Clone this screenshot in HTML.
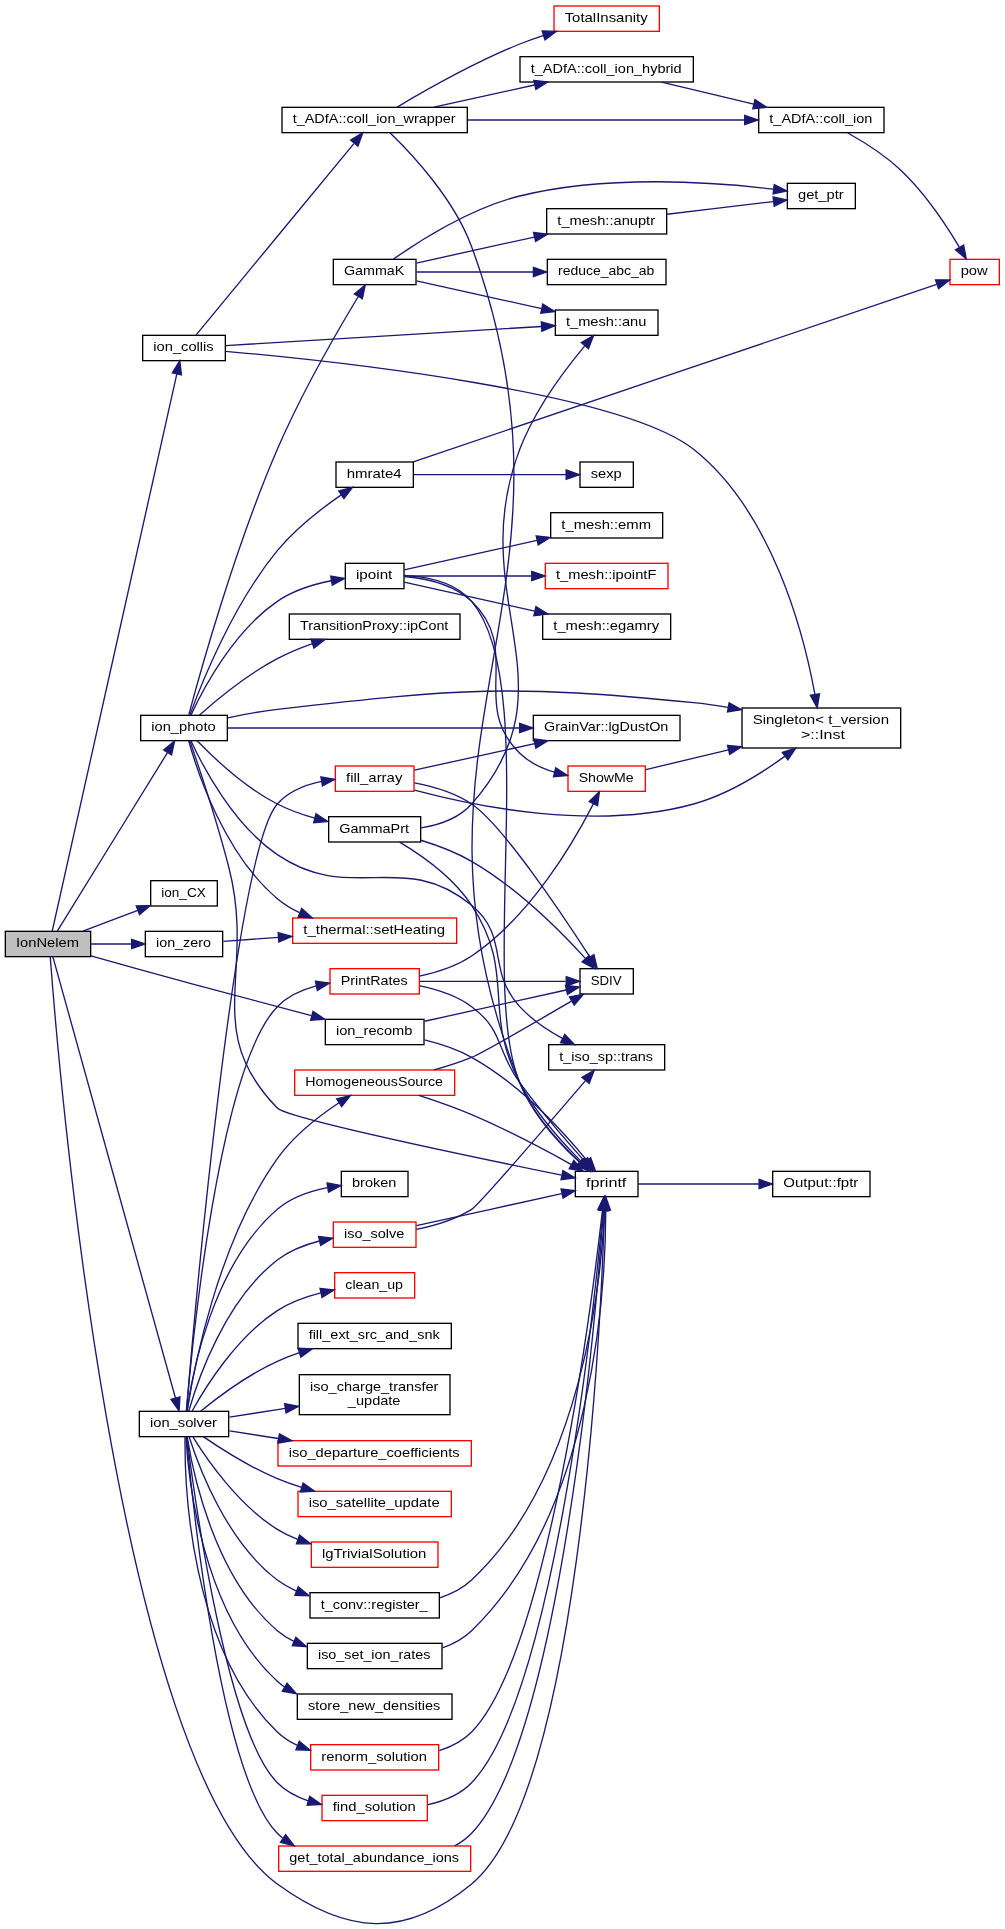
<!DOCTYPE html>
<html><head><meta charset="utf-8"><title>IonNelem</title>
<style>
html,body{margin:0;padding:0;background:#fff}
svg{display:block;will-change:transform}
text{font-family:"Liberation Sans",sans-serif;font-size:13.33px;fill:#000;text-anchor:middle}
</style></head>
<body>
<svg width="1005" height="1929" viewBox="0 0 1005 1929">
<rect x="0" y="0" width="1005" height="1929" fill="#fff"/>
<g fill="none" stroke="#191970" stroke-width="1.333">
<rect x="772.67" y="1171.33" width="97.33" height="25.33" fill="#fff" stroke="#000" stroke-width="1.333"/>
<rect x="787.33" y="183.33" width="68" height="25.33" fill="#fff" stroke="#000" stroke-width="1.333"/>
<rect x="310.67" y="1744.67" width="128" height="25.33" fill="#fff" stroke="#f00" stroke-width="1.333"/>
<rect x="575.33" y="1171.33" width="62.67" height="25.33" fill="#fff" stroke="#000" stroke-width="1.333"/>
<rect x="554" y="6" width="105.33" height="25.33" fill="#fff" stroke="#f00" stroke-width="1.333"/>
<rect x="289.33" y="614" width="170.67" height="25.33" fill="#fff" stroke="#000" stroke-width="1.333"/>
<rect x="548.67" y="1044.67" width="116" height="25.33" fill="#fff" stroke="#000" stroke-width="1.333"/>
<rect x="297.33" y="1694" width="154.67" height="25.33" fill="#fff" stroke="#000" stroke-width="1.333"/>
<rect x="282" y="107.33" width="185.33" height="25.33" fill="#fff" stroke="#000" stroke-width="1.333"/>
<rect x="758.67" y="107.33" width="125.33" height="25.33" fill="#fff" stroke="#000" stroke-width="1.333"/>
<rect x="520" y="56.67" width="173.33" height="25.33" fill="#fff" stroke="#000" stroke-width="1.333"/>
<rect x="310" y="1592.67" width="129.33" height="25.33" fill="#fff" stroke="#000" stroke-width="1.333"/>
<rect x="546.67" y="208.67" width="120" height="25.33" fill="#fff" stroke="#000" stroke-width="1.333"/>
<rect x="150.67" y="880.67" width="66.67" height="25.33" fill="#fff" stroke="#000" stroke-width="1.333"/>
<rect x="341.33" y="1171.33" width="66.67" height="25.33" fill="#fff" stroke="#000" stroke-width="1.333"/>
<rect x="335.33" y="766" width="78.67" height="25.33" fill="#fff" stroke="#f00" stroke-width="1.333"/>
<rect x="568" y="766" width="77.33" height="25.33" fill="#fff" stroke="#f00" stroke-width="1.333"/>
<rect x="742" y="708" width="158.67" height="40" fill="#fff" stroke="#000" stroke-width="1.333"/>
<rect x="580" y="968.67" width="53.33" height="25.33" fill="#fff" stroke="#000" stroke-width="1.333"/>
<rect x="533.33" y="715.33" width="146.67" height="25.33" fill="#fff" stroke="#000" stroke-width="1.333"/>
<rect x="145.33" y="931.33" width="77.33" height="25.33" fill="#fff" stroke="#000" stroke-width="1.333"/>
<rect x="292.67" y="918" width="164" height="25.33" fill="#fff" stroke="#f00" stroke-width="1.333"/>
<rect x="336" y="462" width="77.33" height="25.33" fill="#fff" stroke="#000" stroke-width="1.333"/>
<rect x="580" y="462" width="53.33" height="25.33" fill="#fff" stroke="#000" stroke-width="1.333"/>
<rect x="950" y="259.33" width="49.33" height="25.33" fill="#fff" stroke="#f00" stroke-width="1.333"/>
<rect x="299.33" y="1374.67" width="150.67" height="40" fill="#fff" stroke="#000" stroke-width="1.333"/>
<rect x="294.67" y="1070" width="160" height="25.33" fill="#fff" stroke="#f00" stroke-width="1.333"/>
<rect x="140.67" y="715.33" width="86.67" height="25.33" fill="#fff" stroke="#000" stroke-width="1.333"/>
<rect x="345.33" y="563.33" width="58.67" height="25.33" fill="#fff" stroke="#000" stroke-width="1.333"/>
<rect x="328.67" y="816.67" width="92" height="25.33" fill="#fff" stroke="#000" stroke-width="1.333"/>
<rect x="333.33" y="259.33" width="82.67" height="25.33" fill="#fff" stroke="#000" stroke-width="1.333"/>
<rect x="545.33" y="563.33" width="122.67" height="25.33" fill="#fff" stroke="#f00" stroke-width="1.333"/>
<rect x="542.67" y="614" width="128" height="25.33" fill="#fff" stroke="#000" stroke-width="1.333"/>
<rect x="550.67" y="512.67" width="112" height="25.33" fill="#fff" stroke="#000" stroke-width="1.333"/>
<rect x="278.67" y="1846" width="192" height="25.33" fill="#fff" stroke="#f00" stroke-width="1.333"/>
<rect x="307.33" y="1643.33" width="134.67" height="25.33" fill="#fff" stroke="#000" stroke-width="1.333"/>
<rect x="298" y="1323.33" width="153.33" height="25.33" fill="#fff" stroke="#000" stroke-width="1.333"/>
<rect x="334.67" y="1272.67" width="80" height="25.33" fill="#fff" stroke="#f00" stroke-width="1.333"/>
<rect x="142.67" y="335.33" width="82.67" height="25.33" fill="#fff" stroke="#000" stroke-width="1.333"/>
<rect x="555.33" y="310" width="102.67" height="25.33" fill="#fff" stroke="#000" stroke-width="1.333"/>
<rect x="330" y="968.67" width="89.33" height="25.33" fill="#fff" stroke="#f00" stroke-width="1.333"/>
<rect x="333.33" y="1222" width="82.67" height="25.33" fill="#fff" stroke="#f00" stroke-width="1.333"/>
<rect x="5.33" y="931.33" width="85.33" height="25.33" fill="#bfbfbf" stroke="#000" stroke-width="1.333"/>
<rect x="325.33" y="1019.33" width="98.67" height="25.33" fill="#fff" stroke="#000" stroke-width="1.333"/>
<rect x="139.33" y="1411.33" width="89.33" height="25.33" fill="#fff" stroke="#000" stroke-width="1.333"/>
<rect x="278" y="1440.67" width="193.33" height="25.33" fill="#fff" stroke="#f00" stroke-width="1.333"/>
<rect x="311.33" y="1542" width="126.67" height="25.33" fill="#fff" stroke="#f00" stroke-width="1.333"/>
<rect x="547.33" y="259.33" width="118.67" height="25.33" fill="#fff" stroke="#000" stroke-width="1.333"/>
<rect x="298" y="1491.33" width="153.33" height="25.33" fill="#fff" stroke="#f00" stroke-width="1.333"/>
<rect x="322" y="1795.33" width="105.33" height="25.33" fill="#fff" stroke="#f00" stroke-width="1.333"/>
<path d="M439.28,1750.69 C451.3,1746.83 462.84,1740.92 471.61,1732 546.77,1655.45 591.13,1309.45 602.44,1210.51"/>
<polygon fill="#191970" points="597.84,1209.56 603.97,1196.83 607.13,1210.59 597.84,1209.56"/>
<path d="M396.8,107.31 C424.2,90.99 474.26,62.53 519.75,44 527.2,40.96 535.14,38.12 543.07,35.51"/>
<polygon fill="#191970" points="542.16,30.89 556.32,31.35 544.97,39.8 542.16,30.89"/>
<path d="M389.94,132.79 C411.93,153.99 454.04,198.85 471.61,246.67 600.03,596.11 381.78,736.85 519.75,1082.67 532.33,1114.21 558.88,1143.08 579.08,1161.87"/>
<polygon fill="#191970" points="582.7,1158.83 589.52,1171.21 576.45,1165.77 582.7,1158.83"/>
<path d="M467.99,120 C549.76,120 667.88,120 744.31,120"/>
<polygon fill="#191970" points="744.7,115.33 758.07,120 744.7,124.67 744.7,115.33"/>
<path d="M433.88,107.21 C464.4,100.47 502.13,92.13 534.41,85"/>
<polygon fill="#191970" points="533.8,80.35 547.87,82.03 535.84,89.47 533.8,80.35"/>
<path d="M439.69,1597.79 C451.39,1593.96 462.72,1588.31 471.61,1580 581.66,1477.17 601.16,1281.23 604.61,1210.39"/>
<polygon fill="#191970" points="599.93,1210.04 605.13,1196.89 609.29,1210.4 599.93,1210.04"/>
<path d="M667.05,214.27 C700.63,210.25 742.07,205.31 773.34,201.57"/>
<polygon fill="#191970" points="773.1,196.89 786.93,199.95 774.21,206.16 773.1,196.89"/>
<path d="M414.46,790.13 C475.02,806.35 595.8,831.12 693.6,804 727.12,794.69 760.64,773.88 784.73,756.39"/>
<polygon fill="#191970" points="782.25,752.4 795.76,748.12 787.88,759.87 782.25,752.4"/>
<path d="M414.27,782.88 C432.81,786.33 454.66,792.6 471.61,804 502.23,824.56 561.67,913.27 589.82,956.91"/>
<polygon fill="#191970" points="593.94,954.65 597.19,968.4 586.05,959.68 593.94,954.65"/>
<path d="M414.39,770.17 C447.15,762.95 495.12,752.35 534.78,743.59"/>
<polygon fill="#191970" points="533.82,739.01 547.88,740.68 535.84,748.13 533.82,739.01"/>
<path d="M645.91,769.6 C668.94,764.09 699.41,756.81 728.4,749.88"/>
<polygon fill="#191970" points="727.5,745.31 741.59,746.73 729.68,754.37 727.5,745.31"/>
<path d="M223.38,941.29 C239.43,940.16 258.88,938.77 278.39,937.4"/>
<polygon fill="#191970" points="278.14,932.73 291.86,936.44 278.81,942.04 278.14,932.73"/>
<path d="M413.87,474.67 C455.93,474.67 523.51,474.67 566.11,474.67"/>
<polygon fill="#191970" points="566.15,470 579.52,474.67 566.15,479.33 566.15,470"/>
<path d="M413.31,461.99 C520.69,425.49 829.71,320.51 936.64,284.39"/>
<polygon fill="#191970" points="935.53,279.83 949.78,279.95 938.57,288.67 935.53,279.83"/>
<path d="M433.93,1069.88 C446.55,1066.39 459.7,1062.2 471.61,1057.33 481.89,1053.12 535.3,1022.28 571.42,1001.2"/>
<polygon fill="#191970" points="569.48,996.93 583.39,994.21 574.21,1004.99 569.48,996.93"/>
<path d="M418.89,1095.44 C435.56,1100.83 454.7,1107.49 471.61,1114.67 506.54,1129.45 544.81,1149.73 571.42,1164.55"/>
<polygon fill="#191970" points="573.79,1160.51 583.13,1171.12 569.19,1168.64 573.79,1160.51"/>
<path d="M199.31,715.13 C216.52,699.87 247.19,674.48 277.32,658.67 288.28,652.91 300.48,647.89 312.4,643.65"/>
<polygon fill="#191970" points="310.95,639.21 325.17,639.35 313.98,648.05 310.95,639.21"/>
<path d="M191.04,741.05 C203.03,766.92 233.41,824.76 277.32,854.67 351.09,904.91 403.04,848.63 471.61,905.33 510.08,937.13 486.09,969.81 519.75,1006.67 531.57,1019.6 547.47,1030.24 562.37,1038.39"/>
<polygon fill="#191970" points="564.79,1034.37 574.53,1044.63 560.51,1042.67 564.79,1034.37"/>
<path d="M189.93,714.87 C201.21,683.89 232.66,604.76 277.32,550.67 295.51,528.63 321.11,508.76 341.3,494.87"/>
<polygon fill="#191970" points="338.7,490.97 352.46,487.4 343.95,498.72 338.7,490.97"/>
<path d="M191.05,714.95 C203.05,689.11 233.47,631.31 277.32,601.33 293.12,590.52 313.32,584.32 331.11,580.77"/>
<polygon fill="#191970" points="330.71,576.11 344.74,578.45 332.29,585.31 330.71,576.11"/>
<path d="M227.68,717.81 C243.2,714.49 260.96,711.2 277.32,709.33 461.36,688.25 509.64,684.4 693.6,702.67 704.81,703.77 716.49,705.43 728.03,707.36"/>
<polygon fill="#191970" points="729.13,702.81 741.47,709.76 727.48,712.01 729.13,702.81"/>
<path d="M197.16,740.73 C213.54,757.65 244.84,787.33 277.32,804 288.92,809.95 302.05,814.59 314.79,818.19"/>
<polygon fill="#191970" points="316.06,813.68 327.86,821.56 313.68,822.72 316.06,813.68"/>
<path d="M228.03,728 C296.17,728 430.69,728 519.22,728"/>
<polygon fill="#191970" points="519.64,723.33 533.02,728 519.64,732.67 519.64,723.33"/>
<path d="M189.89,740.99 C198.38,765.57 216.87,820.65 228.98,868 255.96,973.43 201.08,1029.88 277.32,1108 287.32,1118.24 474.58,1157.37 561.52,1175.13"/>
<polygon fill="#191970" points="562.91,1170.65 575.07,1177.89 561.03,1179.8 562.91,1170.65"/>
<path d="M188.77,714.92 C199.52,674.53 234.49,548.53 277.32,449.33 301.69,392.89 337.82,330.4 358.1,296.75"/>
<polygon fill="#191970" points="354.31,293.95 365.27,284.95 362.35,298.77 354.31,293.95"/>
<path d="M188.66,740.79 C197.49,772.31 224.59,854.41 277.32,898.67 283.93,904.21 291.54,908.8 299.54,912.61"/>
<polygon fill="#191970" points="301.77,908.48 312.31,917.96 298.12,917.08 301.77,908.48"/>
<path d="M404.18,576.48 C425.32,578.33 453.6,584.17 471.61,601.33 523,650.25 469.08,703.67 519.75,753.33 529.19,762.57 541.84,768.47 554.52,772.23"/>
<polygon fill="#191970" points="555.73,767.71 567.61,775.41 553.51,776.79 555.73,767.71"/>
<path d="M404.12,576 C435.64,576 488.01,576 531.41,576"/>
<polygon fill="#191970" points="531.78,571.33 545.16,576 531.78,580.67 531.78,571.33"/>
<path d="M404.12,582.2 C436.42,589.35 490.63,601.32 534.65,611.04"/>
<polygon fill="#191970" points="535.9,606.55 547.94,613.99 533.87,615.65 535.9,606.55"/>
<path d="M404.34,575.44 C426.15,576.65 455.24,582.16 471.61,601.33 541.49,683.17 477.8,983.64 519.75,1082.67 533,1113.95 559.44,1142.85 579.44,1161.72"/>
<polygon fill="#191970" points="583.04,1158.68 589.76,1171.12 576.74,1165.57 583.04,1158.68"/>
<path d="M404.12,569.79 C436.97,562.52 492.46,550.27 536.85,540.45"/>
<polygon fill="#191970" points="536.17,535.83 550.24,537.49 538.19,544.93 536.17,535.83"/>
<path d="M454.8,1845.87 C461.03,1842.55 466.77,1838.43 471.61,1833.33 559.6,1740.43 595.55,1320.13 603.54,1210.32"/>
<polygon fill="#191970" points="598.87,1209.92 604.49,1196.95 608.22,1210.57 598.87,1209.92"/>
<path d="M442.38,1647.85 C453.19,1644.03 463.48,1638.53 471.61,1630.67 593.96,1512.31 605.56,1287.51 605.78,1210.59"/>
<polygon fill="#191970" points="601.09,1210.24 605.69,1196.87 610.45,1210.17 601.09,1210.24"/>
<path d="M195.99,335.08 C226.48,298.09 314.53,191.31 353.89,143.55"/>
<polygon fill="#191970" points="350.66,140.12 362.8,132.76 357.92,146.04 350.66,140.12"/>
<path d="M225.79,351.33 C333.07,360.91 620.72,391.53 693.6,449.33 772.74,512.07 804.01,635.01 814.89,694.36"/>
<polygon fill="#191970" points="819.53,693.73 817.19,707.67 810.31,695.32 819.53,693.73"/>
<path d="M225.7,345.56 C298.95,341.16 453.97,331.81 541.51,326.52"/>
<polygon fill="#191970" points="541.32,321.85 554.94,325.71 541.88,331.17 541.32,321.85"/>
<path d="M419.5,976.08 C436.81,972.45 456.23,966.33 471.61,956 530.35,916.52 573.56,842.61 593.34,803.85"/>
<polygon fill="#191970" points="589.23,801.6 599.34,791.72 597.61,805.73 589.23,801.6"/>
<path d="M419.68,981.33 C461.81,981.33 525.02,981.33 565.72,981.33"/>
<polygon fill="#191970" points="566.24,976.67 579.62,981.33 566.24,986 566.24,976.67"/>
<path d="M419.93,985.96 C437.31,989.49 456.66,995.71 471.61,1006.67 503.9,1030.31 496.1,1050.41 519.75,1082.67 540.21,1110.53 566.11,1140.59 584.04,1160.65"/>
<polygon fill="#191970" points="587.64,1157.67 593.09,1170.71 580.67,1163.91 587.64,1157.67"/>
<path d="M420.95,840.24 C437.51,845.31 456.03,852.27 471.61,861.33 517.37,887.96 561.19,931.99 585.57,958.65"/>
<polygon fill="#191970" points="589.06,955.56 594.48,968.6 582.08,961.77 589.06,955.56"/>
<path d="M399.63,842.17 C421.51,855.25 453.32,877.55 471.61,905.33 516.55,973.57 481.79,1010.32 519.75,1082.67 535.64,1112.92 561.88,1142.17 581.13,1161.4"/>
<polygon fill="#191970" points="584.7,1158.35 590.99,1171 578.16,1165.03 584.7,1158.35"/>
<path d="M421.13,827.87 C439.35,824.91 459,818.25 471.61,804 577.13,684.69 463,597.99 519.75,449.33 534.87,409.72 564.48,370.19 584.58,346.08"/>
<polygon fill="#191970" points="581.34,342.67 593.58,335.56 588.47,348.73 581.34,342.67"/>
<path d="M416.27,1229.43 C434.2,1225.77 454.98,1219.61 471.61,1209.33 478.75,1204.91 549.7,1122.44 585.25,1080.87"/>
<polygon fill="#191970" points="582.02,1077.45 594.26,1070.33 589.15,1083.51 582.02,1077.45"/>
<path d="M416.48,1225.72 C457.25,1216.71 519.98,1202.85 561.8,1193.61"/>
<polygon fill="#191970" points="561.07,1188.99 575.14,1190.67 563.09,1198.11 561.07,1188.99"/>
<path d="M82.98,931.21 C99.61,924.88 119.93,917.17 137.85,910.36"/>
<polygon fill="#191970" points="136.22,905.99 150.41,905.59 139.57,914.71 136.22,905.99"/>
<path d="M91.16,944 C103.97,944 118.2,944 131.56,944"/>
<polygon fill="#191970" points="131.66,939.33 145.06,944 131.66,948.67 131.66,939.33"/>
<path d="M57.29,931.13 C78.9,896.09 139.11,798.55 167.49,752.57"/>
<polygon fill="#191970" points="163.58,749.99 174.59,741.07 171.58,754.87 163.58,749.99"/>
<path d="M52.25,930.99 C69.05,855.87 153.77,477.15 176.84,373.97"/>
<polygon fill="#191970" points="172.3,372.83 179.79,360.83 181.45,374.85 172.3,372.83"/>
<path d="M50.25,956.81 C57.96,1060.89 115.88,1766.41 277.32,1884 347.11,1934.79 405.22,1938.77 471.61,1884 578.41,1795.87 600.65,1328.2 604.58,1210.76"/>
<polygon fill="#191970" points="599.9,1210.32 605,1197.13 609.26,1210.6 599.9,1210.32"/>
<path d="M90.88,955.81 C106.04,960.11 123.34,964.97 139.11,969.33 197.39,985.43 264.12,1003.21 311.4,1015.71"/>
<polygon fill="#191970" points="313.04,1011.31 324.8,1019.25 310.62,1020.33 313.04,1011.31"/>
<path d="M52.9,956.83 C70.79,1021.23 150.85,1309.48 175.45,1398.03"/>
<polygon fill="#191970" points="179.97,1396.8 179.02,1410.89 170.94,1399.28 179.97,1396.8"/>
<path d="M638.38,1184 C669.72,1184 719.46,1184 758.97,1184"/>
<polygon fill="#191970" points="759.09,1179.33 772.46,1184 759.09,1188.67 759.09,1179.33"/>
<path d="M847.45,132.71 C863.89,141.88 885.29,155.31 901.36,170.67 925.18,193.4 946.14,224.97 959.2,246.8"/>
<polygon fill="#191970" points="963.64,245.09 966.27,258.97 955.47,249.75 963.64,245.09"/>
<path d="M393.44,259.11 C419.38,240.83 470.41,208.23 519.75,196 607.31,174.28 713.76,181.93 773.49,189.16"/>
<polygon fill="#191970" points="774.25,184.56 786.93,190.88 773.08,193.81 774.25,184.56"/>
<path d="M416.48,263.05 C449.03,255.87 495.56,245.57 534.29,237.03"/>
<polygon fill="#191970" points="533.55,232.4 547.63,234.08 535.58,241.52 533.55,232.4"/>
<path d="M416.48,272 C448.65,272 494.5,272 532.96,272"/>
<polygon fill="#191970" points="533.39,267.33 546.76,272 533.39,276.67 533.39,267.33"/>
<path d="M416.48,280.93 C451.13,288.59 501.63,299.75 541.69,308.6"/>
<polygon fill="#191970" points="542.8,304.07 554.85,311.51 540.78,313.17 542.8,304.07"/>
<path d="M424.64,1021.25 C466.8,1011.93 527.01,998.63 566.14,989.99"/>
<polygon fill="#191970" points="565.45,985.36 579.52,987.03 567.49,994.47 565.45,985.36"/>
<path d="M424.49,1039.91 C440.17,1043.73 457.22,1049.31 471.61,1057.33 519.51,1084.03 563.21,1131.75 586.86,1160.37"/>
<polygon fill="#191970" points="590.71,1157.71 595.46,1171.03 583.43,1163.56 590.71,1157.71"/>
<path d="M185.02,1436.73 C184.55,1483.49 189.52,1647.25 277.32,1732 283.11,1737.57 289.98,1741.96 297.35,1745.41"/>
<polygon fill="#191970" points="299.33,1741.16 310.12,1750.36 295.92,1749.85 299.33,1741.16"/>
<path d="M185.89,1436.95 C188.4,1478.95 202.21,1612.56 277.32,1681.33 279.59,1683.4 282.01,1685.31 284.54,1687.07"/>
<polygon fill="#191970" points="287.05,1683.12 296.33,1693.83 282.35,1691.2 287.05,1683.12"/>
<path d="M189.12,1436.76 C198.62,1466.67 226.51,1541.6 277.32,1580 283.15,1584.4 289.7,1588.04 296.55,1591.05"/>
<polygon fill="#191970" points="298.27,1586.71 309.14,1595.81 294.92,1595.43 298.27,1586.71"/>
<path d="M186.91,1411.09 C192.16,1373.8 212.6,1265.04 277.32,1209.33 291.2,1197.37 310.15,1190.99 327.55,1187.6"/>
<polygon fill="#191970" points="327.05,1182.95 341.04,1185.48 328.52,1192.17 327.05,1182.95"/>
<path d="M186.4,1411.03 C193.49,1326.09 234.82,851.28 277.32,804 288.53,791.52 305.17,784.87 321.44,781.43"/>
<polygon fill="#191970" points="320.9,776.79 334.91,779.23 322.42,786 320.9,776.79"/>
<path d="M229.41,1417.12 C246.17,1414.51 265.91,1411.43 285.3,1408.4"/>
<polygon fill="#191970" points="284.64,1403.77 298.63,1406.32 286.09,1413 284.64,1403.77"/>
<path d="M187.16,1411.23 C193.4,1370.83 217.06,1243.44 277.32,1158.67 293.55,1135.83 318.59,1116.32 339.03,1102.79"/>
<polygon fill="#191970" points="336.59,1098.8 350.43,1095.53 341.66,1106.65 336.59,1098.8"/>
<path d="M186.43,1436.68 C192.06,1499.19 219.8,1773.85 277.32,1833.33 279,1835.07 280.8,1836.69 282.68,1838.21"/>
<polygon fill="#191970" points="285.64,1834.56 294.28,1845.79 280.47,1842.36 285.64,1834.56"/>
<path d="M187.16,1436.95 C192.97,1473.36 214.56,1577.4 277.32,1630.67 282.3,1634.89 287.91,1638.41 293.88,1641.37"/>
<polygon fill="#191970" points="295.93,1637.16 306.48,1646.64 292.28,1645.76 295.93,1637.16"/>
<path d="M200.62,1411.15 C218.11,1397.04 248.1,1374.65 277.32,1361.33 284.34,1358.12 291.86,1355.27 299.47,1352.72"/>
<polygon fill="#191970" points="298.08,1348.27 312.3,1348.76 300.88,1357.17 298.08,1348.27"/>
<path d="M192.03,1411.24 C205.09,1387.63 236.34,1337.09 277.32,1310.67 290.28,1302.31 305.92,1296.69 320.78,1292.93"/>
<polygon fill="#191970" points="319.99,1288.32 334.12,1289.97 322.03,1297.44 319.99,1288.32"/>
<path d="M186.39,1411.07 C191.84,1347.35 218.84,1067.36 277.32,1006.67 287.63,995.96 301.94,989.59 316.37,985.85"/>
<polygon fill="#191970" points="315.43,981.28 329.54,983.12 317.36,990.43 315.43,981.28"/>
<path d="M188.78,1411.04 C197.71,1379.93 224.74,1300.61 277.32,1260 289.4,1250.65 304.66,1244.75 319.44,1241.01"/>
<polygon fill="#191970" points="318.63,1236.41 332.76,1238.16 320.62,1245.53 318.63,1236.41"/>
<path d="M229.41,1430.87 C244.14,1433.17 261.18,1435.83 278.26,1438.49"/>
<polygon fill="#191970" points="279.39,1433.95 291.91,1440.63 277.92,1443.16 279.39,1433.95"/>
<path d="M192.92,1436.88 C206.73,1459.24 238.25,1505.11 277.32,1529.33 283.63,1533.24 290.53,1536.55 297.66,1539.36"/>
<polygon fill="#191970" points="299.53,1535.05 310.65,1543.87 296.41,1543.87 299.53,1535.05"/>
<path d="M203.21,1436.67 C221.18,1448.91 250.06,1467.23 277.32,1478.67 285.04,1481.89 293.28,1484.81 301.57,1487.43"/>
<polygon fill="#191970" points="303.05,1482.99 314.58,1491.27 300.36,1491.93 303.05,1482.99"/>
<path d="M186.9,1437.01 C194.15,1495.27 226.34,1731.51 277.32,1782.67 285.78,1791.15 296.76,1796.89 308.26,1800.76"/>
<polygon fill="#191970" points="309.67,1796.31 321.35,1804.37 307.15,1805.29 309.67,1796.31"/>
<path d="M427.98,1804.57 C443.89,1801.04 460.19,1794.52 471.61,1782.67 553.21,1697.92 593.48,1314.52 603.06,1210.24"/>
<polygon fill="#191970" points="598.39,1209.81 604.25,1196.95 607.71,1210.64 598.39,1209.81"/>
<path d="M661.5,82.11 C689.47,88.8 723.98,97.04 753.64,104.13"/>
<polygon fill="#191970" points="754.97,99.65 766.88,107.31 752.79,108.73 754.97,99.65"/>
</g>
<g lengthAdjust="spacingAndGlyphs" opacity="0.999">
<text lengthAdjust="spacingAndGlyphs" x="820.83" y="1187" textLength="75.03">Output::fptr</text>
<text lengthAdjust="spacingAndGlyphs" x="820.83" y="199" textLength="45.7">get_ptr</text>
<text lengthAdjust="spacingAndGlyphs" x="374.17" y="1761" textLength="105.7">renorm_solution</text>
<text lengthAdjust="spacingAndGlyphs" x="606.17" y="1187" textLength="40.37">fprintf</text>
<text lengthAdjust="spacingAndGlyphs" x="606.17" y="22" textLength="83.03">TotalInsanity</text>
<text lengthAdjust="spacingAndGlyphs" x="374.17" y="630" textLength="148.37">TransitionProxy::ipCont</text>
<text lengthAdjust="spacingAndGlyphs" x="606.17" y="1061" textLength="93.7">t_iso_sp::trans</text>
<text lengthAdjust="spacingAndGlyphs" x="374.17" y="1710" textLength="132.37">store_new_densities</text>
<text lengthAdjust="spacingAndGlyphs" x="374.17" y="123" textLength="163.03">t_ADfA::coll_ion_wrapper</text>
<text lengthAdjust="spacingAndGlyphs" x="820.83" y="123" textLength="103.03">t_ADfA::coll_ion</text>
<text lengthAdjust="spacingAndGlyphs" x="606.17" y="73" textLength="151.03">t_ADfA::coll_ion_hybrid</text>
<text lengthAdjust="spacingAndGlyphs" x="374.17" y="1609" textLength="107.03">t_conv::register_</text>
<text lengthAdjust="spacingAndGlyphs" x="606.17" y="225" textLength="97.7">t_mesh::anuptr</text>
<text lengthAdjust="spacingAndGlyphs" x="183.5" y="897" textLength="44.37">ion_CX</text>
<text lengthAdjust="spacingAndGlyphs" x="374.17" y="1187" textLength="44.37">broken</text>
<text lengthAdjust="spacingAndGlyphs" x="374.17" y="782" textLength="56.37">fill_array</text>
<text lengthAdjust="spacingAndGlyphs" x="606.17" y="782" textLength="55.03">ShowMe</text>
<text lengthAdjust="spacingAndGlyphs" x="820.83" y="724" textLength="136.37">Singleton&lt; t_version</text>
<text lengthAdjust="spacingAndGlyphs" x="822.93" y="739" textLength="43.88">&gt;::Inst</text>
<text lengthAdjust="spacingAndGlyphs" x="606.17" y="985" textLength="31.03">SDIV</text>
<text lengthAdjust="spacingAndGlyphs" x="606.17" y="731" textLength="124.37">GrainVar::lgDustOn</text>
<text lengthAdjust="spacingAndGlyphs" x="183.5" y="947" textLength="55.03">ion_zero</text>
<text lengthAdjust="spacingAndGlyphs" x="374.17" y="934" textLength="141.7">t_thermal::setHeating</text>
<text lengthAdjust="spacingAndGlyphs" x="374.17" y="478" textLength="55.03">hmrate4</text>
<text lengthAdjust="spacingAndGlyphs" x="606.17" y="478" textLength="31.03">sexp</text>
<text lengthAdjust="spacingAndGlyphs" x="974.17" y="275" textLength="27.03">pow</text>
<text lengthAdjust="spacingAndGlyphs" x="374.17" y="1391" textLength="128.37">iso_charge_transfer</text>
<text lengthAdjust="spacingAndGlyphs" x="374.17" y="1405" textLength="52.61">_update</text>
<text lengthAdjust="spacingAndGlyphs" x="374.17" y="1086" textLength="137.7">HomogeneousSource</text>
<text lengthAdjust="spacingAndGlyphs" x="183.5" y="731" textLength="64.37">ion_photo</text>
<text lengthAdjust="spacingAndGlyphs" x="374.17" y="579" textLength="36.37">ipoint</text>
<text lengthAdjust="spacingAndGlyphs" x="374.17" y="833" textLength="69.7">GammaPrt</text>
<text lengthAdjust="spacingAndGlyphs" x="374.17" y="275" textLength="60.37">GammaK</text>
<text lengthAdjust="spacingAndGlyphs" x="606.17" y="579" textLength="100.37">t_mesh::ipointF</text>
<text lengthAdjust="spacingAndGlyphs" x="606.17" y="630" textLength="105.7">t_mesh::egamry</text>
<text lengthAdjust="spacingAndGlyphs" x="606.17" y="529" textLength="89.7">t_mesh::emm</text>
<text lengthAdjust="spacingAndGlyphs" x="374.17" y="1862" textLength="169.7">get_total_abundance_ions</text>
<text lengthAdjust="spacingAndGlyphs" x="374.17" y="1659" textLength="112.37">iso_set_ion_rates</text>
<text lengthAdjust="spacingAndGlyphs" x="374.17" y="1339" textLength="131.03">fill_ext_src_and_snk</text>
<text lengthAdjust="spacingAndGlyphs" x="374.17" y="1289" textLength="57.7">clean_up</text>
<text lengthAdjust="spacingAndGlyphs" x="183.5" y="351" textLength="60.37">ion_collis</text>
<text lengthAdjust="spacingAndGlyphs" x="606.17" y="326" textLength="80.37">t_mesh::anu</text>
<text lengthAdjust="spacingAndGlyphs" x="374.17" y="985" textLength="67.03">PrintRates</text>
<text lengthAdjust="spacingAndGlyphs" x="374.17" y="1238" textLength="60.37">iso_solve</text>
<text lengthAdjust="spacingAndGlyphs" x="47.5" y="947" textLength="63.03">IonNelem</text>
<text lengthAdjust="spacingAndGlyphs" x="374.17" y="1035" textLength="76.37">ion_recomb</text>
<text lengthAdjust="spacingAndGlyphs" x="183.5" y="1427" textLength="67.03">ion_solver</text>
<text lengthAdjust="spacingAndGlyphs" x="374.17" y="1457" textLength="171.03">iso_departure_coefficients</text>
<text lengthAdjust="spacingAndGlyphs" x="374.17" y="1558" textLength="104.37">lgTrivialSolution</text>
<text lengthAdjust="spacingAndGlyphs" x="606.17" y="275" textLength="96.37">reduce_abc_ab</text>
<text lengthAdjust="spacingAndGlyphs" x="374.17" y="1507" textLength="131.03">iso_satellite_update</text>
<text lengthAdjust="spacingAndGlyphs" x="374.17" y="1811" textLength="83.03">find_solution</text>
</g>
</svg>
</body></html>
